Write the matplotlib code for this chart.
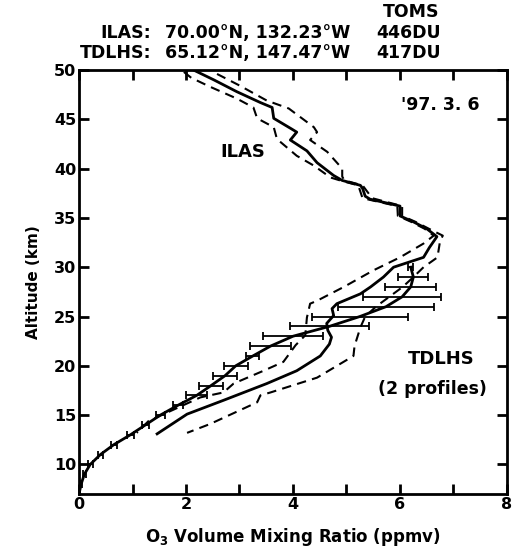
"""
ILAS vs TDLHS ozone profiles, 6 March 1997
"""

import matplotlib
matplotlib.use("Agg")
import matplotlib.pyplot as plt
import numpy as np

plt.rcParams.update({
    "font.family": "DejaVu Sans",
    "font.weight": "bold",
    "axes.labelweight": "bold",
    "mathtext.default": "bf",
    "axes.linewidth": 2,
})

# ILAS retrieved profile (altitude km, O3 ppmv)
ilas_alt = [50.0, 49.0, 47.8, 46.7, 46.2, 45.1, 44.0, 43.7, 42.9, 41.8, 40.6, 39.3, 38.8,
            38.3, 38.0, 37.2, 36.9, 36.2, 35.2, 34.6, 33.9, 33.1, 32.0, 31.0, 30.0, 29.0,
            28.0, 27.3, 26.3, 25.8, 25.1, 24.3, 23.6, 22.9, 22.2, 21.0, 19.5, 18.2, 16.5,
            15.1, 13.1]
ilas_o3 = [2.14, 2.52, 2.95, 3.39, 3.61, 3.64, 3.98, 4.07, 3.95, 4.26, 4.45, 4.76, 4.92,
           5.26, 5.30, 5.35, 5.44, 6.00, 6.00, 6.25, 6.50, 6.69, 6.55, 6.44, 5.88, 5.69,
           5.45, 5.26, 4.82, 4.73, 4.76, 4.63, 4.65, 4.72, 4.68, 4.51, 4.07, 3.51, 2.70,
           2.02, 1.46]

# ILAS error envelope, low side
ilas_lo_alt = [49.8, 49.2, 48.3, 47.1, 46.2, 45.1, 44.2, 43.0, 41.3, 40.3, 39.1, 38.8,
               38.3, 37.0, 36.2, 35.2, 34.6, 33.9, 33.2, 32.4, 31.0, 29.7, 28.0, 26.6,
               26.3, 24.9, 23.1, 22.1, 20.4, 19.5, 18.2, 17.3, 16.8, 14.4, 13.2]
ilas_lo_o3 = [1.96, 2.10, 2.45, 2.95, 3.26, 3.33, 3.64, 3.70, 4.07, 4.39, 4.70, 4.88,
              5.22, 5.30, 5.95, 5.96, 6.21, 6.46, 6.63, 6.44, 6.00, 5.51, 4.95, 4.45,
              4.32, 4.26, 4.23, 4.05, 3.82, 3.45, 2.89, 2.70, 2.27, 1.30, 1.08]

# ILAS error envelope, high side
ilas_hi_alt = [49.6, 48.4, 46.9, 46.1, 44.2, 43.7, 42.9, 41.7, 40.0, 39.2, 38.8, 38.3,
               37.0, 36.2, 35.2, 34.6, 33.9, 33.2, 32.7, 31.0, 30.0, 29.0, 28.0, 27.0,
               26.0, 25.0, 23.9, 22.0, 21.0, 18.8, 17.3, 17.0, 16.3, 14.1, 13.2]
ilas_hi_o3 = [2.58, 3.01, 3.51, 3.92, 4.39, 4.45, 4.32, 4.64, 4.92, 4.92, 4.96, 5.30,
              5.48, 6.04, 6.04, 6.29, 6.54, 6.80, 6.75, 6.70, 6.44, 6.25, 6.05, 5.80,
              5.55, 5.35, 5.26, 5.15, 5.13, 4.45, 3.58, 3.39, 3.33, 2.45, 2.02]

# TDLHS balloon profile with errors
tdlhs_alt = [30.0, 29.0, 28.0, 27.0, 26.0, 25.0, 24.0, 23.0, 22.0, 21.0, 20.0, 19.0,
             18.0, 17.0, 16.0, 15.0, 14.0, 13.0, 12.0, 11.0, 10.0, 9.0, 8.0, 7.0]
tdlhs_o3 = [6.20, 6.25, 6.20, 6.04, 5.74, 5.25, 4.68, 4.00, 3.58, 3.25, 2.93, 2.73,
            2.47, 2.20, 1.85, 1.52, 1.24, 0.96, 0.65, 0.40, 0.21, 0.10, 0.04, 0.0]
tdlhs_err = [0.05, 0.28, 0.48, 0.73, 0.90, 0.90, 0.74, 0.56, 0.38, 0.12, 0.22, 0.23,
             0.23, 0.20, 0.10, 0.08, 0.07, 0.06, 0.06, 0.05, 0.05, 0.03, 0.02, 0.0]

xticks = [0, 1, 2, 3, 4, 5, 6, 7, 8]
xticklabels = ["0", "", "2", "", "4", "", "6", "", "8"]
yticks = [10, 15, 20, 25, 30, 35, 40, 45, 50]

fig = plt.figure(figsize=(5.13, 5.55), dpi=100)
ax = fig.add_axes([79 / 513, 1 - 494 / 555, 428 / 513, 424 / 555])

dash = (0, (4.5, 3))
ax.plot(ilas_o3, ilas_alt, color="black", lw=2)
ax.plot(ilas_lo_o3, ilas_lo_alt, color="black", lw=1.5, linestyle=dash)
ax.plot(ilas_hi_o3, ilas_hi_alt, color="black", lw=1.5, linestyle=dash)
ax.errorbar(tdlhs_o3, tdlhs_alt, xerr=tdlhs_err, fmt="-", color="black", lw=2,
            elinewidth=1.3, capsize=3, capthick=1.3)

ax.set_xlim(0, 8)
ax.set_ylim(7, 50)
ax.set_xticks(xticks)
ax.set_xticklabels(xticklabels)
ax.set_yticks(yticks)
ax.tick_params(direction="in", length=7, width=2, top=True, right=True,
               labelsize=11.5, pad=2)
ax.set_xlabel("O$_3$ Volume Mixing Ratio (ppmv)", fontsize=12, labelpad=10)
ax.set_ylabel("Altitude (km)", fontsize=11, labelpad=9)

ax.text(3.06, 41.7, "ILAS", fontsize=13, ha="center", va="center")
ax.text(6.75, 46.4, "'97. 3. 6", fontsize=12.5, ha="center", va="center")
ax.text(6.78, 20.7, "TDLHS", fontsize=13, ha="center", va="center")
ax.text(6.6, 17.6, "(2 profiles)", fontsize=12.5, ha="center", va="center")

hdr = dict(fontsize=12.5, va="center")
fig.text(411 / 513, 1 - 12 / 555, "TOMS", ha="center", **hdr)
fig.text(100 / 513, 1 - 33 / 555, "ILAS:", ha="left", **hdr)
fig.text(350 / 513, 1 - 33 / 555, "70.00°N, 132.23°W", ha="right", **hdr)
fig.text(409 / 513, 1 - 33 / 555, "446DU", ha="center", **hdr)
fig.text(80 / 513, 1 - 53 / 555, "TDLHS:", ha="left", **hdr)
fig.text(350 / 513, 1 - 53 / 555, "65.12°N, 147.47°W", ha="right", **hdr)
fig.text(409 / 513, 1 - 53 / 555, "417DU", ha="center", **hdr)

fig.savefig("out.png", dpi=100)
